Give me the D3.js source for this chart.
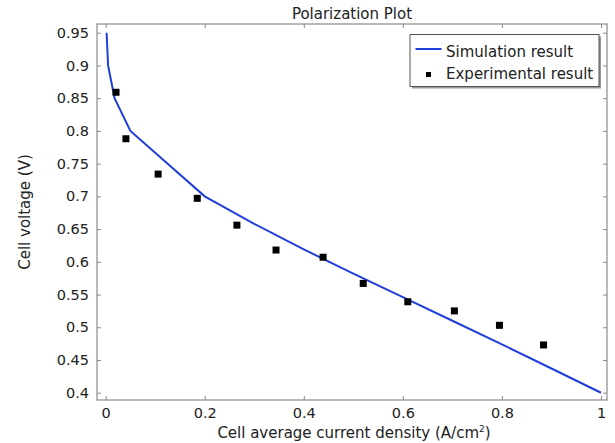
<!DOCTYPE html>
<html><head><meta charset="utf-8">
<script src="https://cdn.jsdelivr.net/npm/d3@7"></script>
<style>
html,body{margin:0;padding:0;background:#fff;}
text{font-family:"DejaVu Sans",sans-serif;fill:#222;}
</style></head>
<body>
<svg id="c" width="615" height="443"></svg>
<script>
// Simulation result (line)
const simCurrent = [0.002, 0.005, 0.018, 0.05, 0.2, 0.3, 0.4, 0.5, 0.6, 0.7, 0.8, 0.9, 1.0];
const simVoltage = [0.95, 0.90, 0.85, 0.80, 0.70, 0.658, 0.619, 0.582, 0.546, 0.510, 0.474, 0.437, 0.40];
// Experimental result (markers)
const expCurrent = [0.021, 0.041, 0.106, 0.185, 0.265, 0.344, 0.439, 0.520, 0.610, 0.704, 0.795, 0.884];
const expVoltage = [0.859, 0.788, 0.734, 0.697, 0.656, 0.618, 0.607, 0.567, 0.539, 0.525, 0.503, 0.473];
// Tick labels
const xTicks = [0, 0.2, 0.4, 0.6, 0.8, 1];
const yTicks = [0.4, 0.45, 0.5, 0.55, 0.6, 0.65, 0.7, 0.75, 0.8, 0.85, 0.9, 0.95];
const titleText = "Polarization Plot";
const legendLabels = ["Simulation result", "Experimental result"];

const svg = d3.select("#c");
const L = 97, R = 607, T = 24, B = 400;
const x = d3.scaleLinear().domain([-0.0174, 1.0121]).range([L, R]);
const y = d3.scaleLinear().domain([0.3889, 0.9633]).range([B, T]);
const frame = "#8a8a8a";
const fmt = d => String(+d.toFixed(2));
const tickFont = 14.5, labFont = 15;

// Axes (ticks inward on all sides)
const gB = svg.append("g").attr("transform", `translate(0,${B})`)
  .call(d3.axisBottom(x).tickValues(xTicks).tickSize(-4).tickPadding(8).tickFormat(fmt));
const gT = svg.append("g").attr("transform", `translate(0,${T})`)
  .call(d3.axisTop(x).tickValues(xTicks).tickSize(-4).tickFormat(""));
const gL = svg.append("g").attr("transform", `translate(${L},0)`)
  .call(d3.axisLeft(y).tickValues(yTicks).tickSize(-4).tickPadding(8).tickFormat(fmt));
const gR = svg.append("g").attr("transform", `translate(${R},0)`)
  .call(d3.axisRight(y).tickValues(yTicks).tickSize(-4).tickFormat(""));
[gB, gT, gL, gR].forEach(g => {
  g.select(".domain").remove();
  g.selectAll(".tick line").attr("stroke", frame).attr("stroke-width", 1);
  g.selectAll(".tick text").attr("font-size", tickFont).attr("fill", "#222")
    .attr("font-family", "DejaVu Sans, sans-serif");
});
svg.append("rect").attr("x", L).attr("y", T).attr("width", R - L).attr("height", B - T)
  .attr("fill", "none").attr("stroke", frame).attr("stroke-width", 1.2);

// Line
const sim = simCurrent.map((c, i) => [c, simVoltage[i]]);
svg.append("path").datum(sim)
  .attr("d", d3.line().x(d => x(d[0])).y(d => y(d[1])))
  .attr("fill", "none").attr("stroke", "#1f3fd9").attr("stroke-width", 2);

// Markers
const exp = expCurrent.map((c, i) => [c, expVoltage[i]]);
svg.append("g").selectAll("rect").data(exp).join("rect")
  .attr("x", d => x(d[0]) - 3.5).attr("y", d => y(d[1]) - 3.5)
  .attr("width", 7).attr("height", 7).attr("fill", "#000");

// Title
svg.append("text").attr("x", (L + R) / 2).attr("y", 18.5).attr("text-anchor", "middle")
  .attr("font-size", labFont).text(titleText);

// X label
const xl = svg.append("text").attr("x", (L + R) / 2 + 2).attr("y", 438).attr("text-anchor", "middle")
  .attr("font-size", labFont);
xl.append("tspan").text("Cell average current density (A/cm");
xl.append("tspan").attr("font-size", 9).attr("dy", -6).text("2");
xl.append("tspan").attr("dy", 6).text(")");

// Y label
svg.append("text").attr("transform", `translate(30,${(T + B) / 2}) rotate(-90)`)
  .attr("text-anchor", "middle").attr("font-size", labFont).text("Cell voltage (V)");

// Legend
const lx = 410, ly = 34.5, lw = 189, lh = 52;
svg.append("rect").attr("x", lx + 2).attr("y", ly + 2).attr("width", lw).attr("height", lh)
  .attr("fill", "#9a9a9a");
svg.append("rect").attr("x", lx).attr("y", ly).attr("width", lw).attr("height", lh)
  .attr("fill", "#fff").attr("stroke", "#555").attr("stroke-width", 1);
svg.append("line").attr("x1", 415.5).attr("x2", 441.5).attr("y1", 49).attr("y2", 49)
  .attr("stroke", "#1f3fd9").attr("stroke-width", 2);
svg.append("rect").attr("x", 426).attr("y", 72).attr("width", 5).attr("height", 5).attr("fill", "#000");
svg.append("text").attr("x", 446).attr("y", 56.5).attr("font-size", labFont).text(legendLabels[0]);
svg.append("text").attr("x", 446).attr("y", 79).attr("font-size", labFont).text(legendLabels[1]);
</script>
</body></html>
